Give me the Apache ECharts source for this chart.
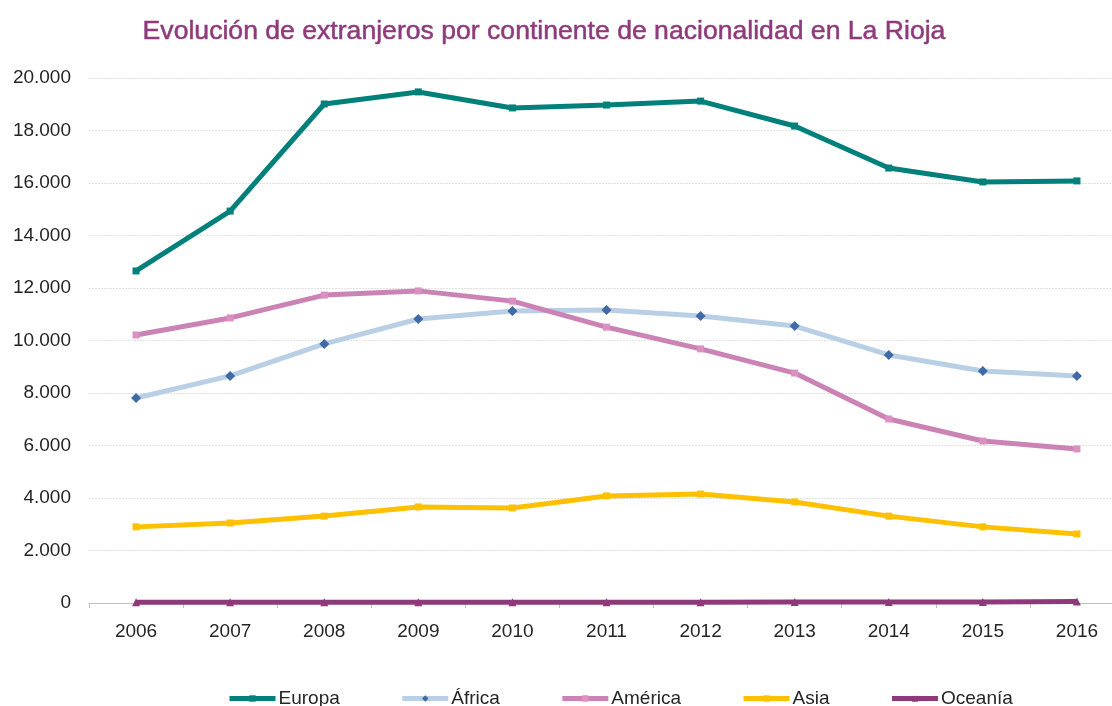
<!DOCTYPE html>
<html>
<head>
<meta charset="utf-8">
<script src="https://cdn.jsdelivr.net/npm/echarts@6/dist/echarts.min.js"></script>
<style>
  html, body { margin: 0; padding: 0; background: #fff; }
  #main { width: 1112px; height: 706px; }
</style>
</head>
<body>
<div id="main"></div>
<script>
var years = ['2006', '2007', '2008', '2009', '2010', '2011', '2012', '2013', '2014', '2015', '2016'];

var europa  = [12650, 14930, 19010, 19470, 18860, 18970, 19120, 18170, 16570, 16040, 16080];
var africa  = [7810, 8650, 9870, 10820, 11120, 11160, 10930, 10550, 9450, 8840, 8650];
var america = [10210, 10860, 11730, 11890, 11500, 10510, 9680, 8760, 7010, 6170, 5870];
var asia    = [2900, 3050, 3310, 3660, 3620, 4080, 4150, 3850, 3310, 2900, 2630];
var oceania = [25, 27, 28, 30, 31, 32, 33, 34, 36, 38, 55];

var myChart = echarts.init(document.getElementById('main'));

function fmt(v) {
  // separador de miles con punto
  return String(v).replace(/\B(?=(\d{3})+(?!\d))/g, '.');
}

function serie(name, data, color, symbol, symbolColor, size) {
  return {
    name: name,
    type: 'line',
    data: data,
    symbol: symbol,
    symbolSize: size,
    showAllSymbol: true,
    lineStyle: { color: color, width: 5 },
    itemStyle: { color: symbolColor },
    z: 2
  };
}

myChart.setOption({
  backgroundColor: '#fff',
  animation: false,
  title: {
    text: 'Evolución de extranjeros por continente de nacionalidad en La Rioja',
    left: 539,
    top: 13,
    textAlign: 'center',
    textStyle: {
      color: '#8e3a7c',
      fontFamily: 'Liberation Sans',
      fontWeight: 'normal',
      fontSize: 26.6,
      textBorderColor: '#8e3a7c',
      textBorderWidth: 0.5
    }
  },
  legend: {
    left: 227,
    top: 689,
    padding: 0,
    itemWidth: 46,
    itemHeight: 8,
    itemGap: 60,
    lineStyle: { width: 5 },
    textStyle: {
      color: '#262626',
      fontFamily: 'Liberation Sans',
      fontSize: 19,
      padding: [0, 0, 0, -2]
    },
    data: ['Europa', 'África', 'América', 'Asia', 'Oceanía']
  },
  grid: {
    left: 89,
    top: 78,
    width: 1035,
    bottom: 103,
    outerBoundsMode: 'none',
    containLabel: false
  },
  xAxis: {
    type: 'category',
    data: years,
    boundaryGap: true,
    axisLine: { lineStyle: { color: '#bfbfbf', width: 1 } },
    axisTick: { show: true, length: 5, lineStyle: { color: '#bfbfbf' } },
    axisLabel: {
      color: '#262626',
      fontFamily: 'Liberation Sans',
      fontSize: 19,
      margin: 19
    }
  },
  yAxis: {
    type: 'value',
    min: 0,
    max: 20000,
    interval: 2000,
    axisLine: { show: false },
    axisTick: { show: false },
    splitLine: { lineStyle: { color: '#e0e0e0', width: 1, type: [2, 1] } },
    axisLabel: {
      color: '#262626',
      fontFamily: 'Liberation Sans',
      fontSize: 19,
      margin: 18,
      formatter: fmt
    }
  },
  series: [
    serie('Europa', europa, '#00807a', 'rect', '#00807a', 7),
    serie('África', africa, '#b9cfe6', 'diamond', '#4069a6', 10),
    serie('América', america, '#cb83b5', 'rect', '#dc90c1', 7),
    serie('Asia', asia, '#ffc000', 'rect', '#ffc000', 7),
    serie('Oceanía', oceania, '#8e3a7a', 'triangle', '#8e3a7a', 8)
  ]
});
</script>
</body>
</html>
